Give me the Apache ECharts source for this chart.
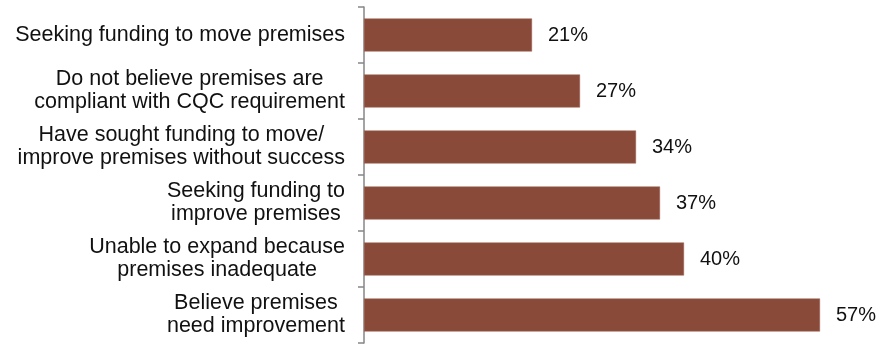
<!DOCTYPE html>
<html>
<head>
<meta charset="utf-8">
<script src="https://cdn.jsdelivr.net/npm/echarts@6/dist/echarts.min.js"></script>
<style>
  html, body { margin: 0; padding: 0; background: #fff; }
  #chart { width: 893px; height: 344px; }
</style>
</head>
<body>
<div id="chart"></div>
<script>
var categories = [
    'Seeking funding to move premises',
    'Do not believe premises are\ncompliant with CQC requirement',
    'Have sought funding to move/\nimprove premises without success',
    'Seeking funding to\nimprove premises',
    'Unable to expand because\npremises inadequate',
    'Believe premises\nneed improvement'
];
var values = [21, 27, 34, 37, 40, 57];

var chart = echarts.init(document.getElementById('chart'));

var option = {
    backgroundColor: '#ffffff',
    animation: false,
    grid: {
        left: 364,
        right: 49,
        top: 7,
        bottom: 1
    },
    xAxis: {
        type: 'value',
        min: 0,
        max: 60,
        show: false
    },
    yAxis: {
        type: 'category',
        inverse: true,
        data: categories,
        axisLine: { show: true, lineStyle: { color: '#868686', width: 1.5 } },
        axisTick: { show: true, length: 6, lineStyle: { color: '#868686', width: 1.5 } },
        axisLabel: {
            margin: 19,
            align: 'right',
            // keep lines centred against each other, block right-aligned
            formatter: function (val) {
                return val.split('\n').map(function (l) { return '{c|' + l + '}'; }).join('\n');
            },
            rich: {
                c: {
                    align: 'center',
                    fontFamily: 'Liberation Sans, Arial, sans-serif',
                    fontSize: 21.5,
                    lineHeight: 23,
                    color: '#111'
                }
            }
        },
        splitLine: { show: false }
    },
    series: [{
        type: 'bar',
        data: values,
        barWidth: 33,
        itemStyle: {
            color: '#894A39',
            borderColor: '#9C6352',
            borderWidth: 0.5
        },
        label: {
            show: true,
            position: 'right',
            distance: 16,
            formatter: '{c}%',
            fontFamily: 'Liberation Sans, Arial, sans-serif',
            fontSize: 20,
            color: '#111'
        }
    }]
};

chart.setOption(option);
</script>
</body>
</html>
